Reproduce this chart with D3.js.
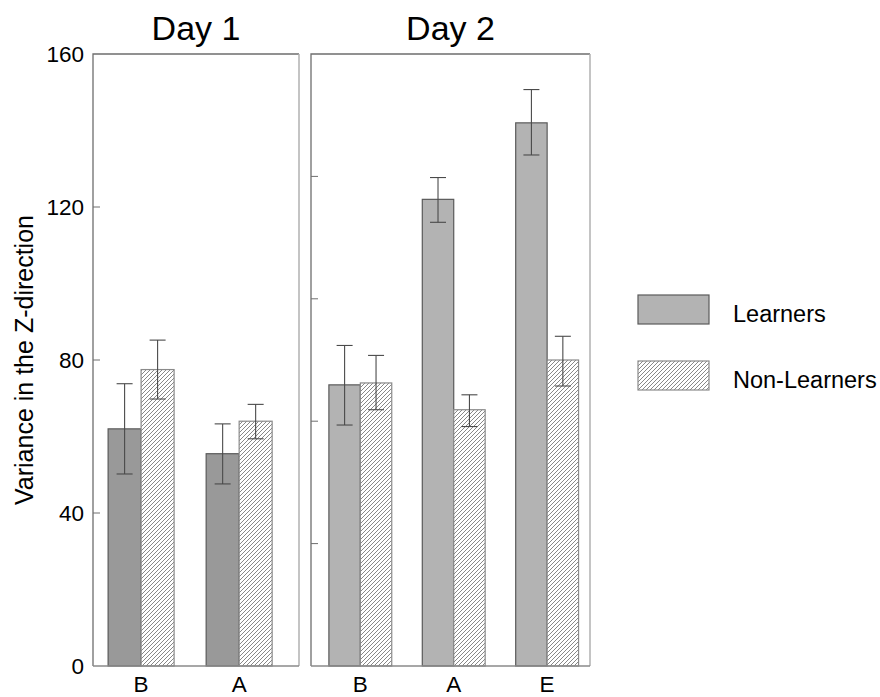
<!DOCTYPE html>
<html>
<head>
<meta charset="utf-8">
<script src="https://cdnjs.cloudflare.com/ajax/libs/d3/7.8.5/d3.min.js"></script>
<style>
  html, body { margin: 0; padding: 0; background: #fff; }
  svg { display: block; font-family: "Liberation Sans", Arial, sans-serif; }
</style>
</head>
<body>
<svg id="chart" width="880" height="697"></svg>
<script>
// ---------------- data ----------------
const series = ["Learners", "Non-Learners"];
const panelTitles = ["Day 1", "Day 2"];
const day1Categories = ["B", "A"];
const day2Categories = ["B", "A", "E"];
// means
const day1Learners = [62, 55.5];
const day1NonLearners = [77.5, 64];
const day2Learners = [73.5, 122, 142];
const day2NonLearners = [74, 67, 80];
// error bar bounds (low, high)
const day1LearnersErr = [[50.2, 73.8], [47.6, 63.3]];
const day1NonLearnersErr = [[69.8, 85.2], [59.4, 68.4]];
const day2LearnersErr = [[63, 83.8], [116, 127.7], [133.6, 150.7]];
const day2NonLearnersErr = [[67, 81.2], [62.6, 70.9], [73.2, 86.2]];
const yTicks = [0, 40, 80, 120, 160];
const day2MinorTicks = [32, 64, 96, 128];
const yLabel = "Variance in the Z-direction";

// ---------------- layout ----------------
const svg = d3.select("#chart");
const yTop = 54, yBottom = 666;
const y = d3.scaleLinear().domain([0, 160]).range([yBottom, yTop]);

const defs = svg.append("defs");
const pat = defs.append("pattern")
  .attr("id", "hatch").attr("patternUnits", "userSpaceOnUse")
  .attr("width", 4).attr("height", 4);
pat.append("rect").attr("width", 4).attr("height", 4).attr("fill", "#fff");
pat.append("path").attr("d", "M-1,1 l2,-2 M0,4 l4,-4 M3,5 l2,-2")
  .attr("stroke", "#7a7a7a").attr("stroke-width", 0.9);

const panels = [
  { title: panelTitles[0], cats: day1Categories, L: day1Learners, N: day1NonLearners,
    LE: day1LearnersErr, NE: day1NonLearnersErr, x0: 93, x1: 299,
    po: 0.214, align: 0.36, lFill: "#999999", minor: yTicks.slice(1, 4) },
  { title: panelTitles[1], cats: day2Categories, L: day2Learners, N: day2NonLearners,
    LE: day2LearnersErr, NE: day2NonLearnersErr, x0: 311, x1: 590,
    po: 0.157, align: 0.61, lFill: "#b3b3b3", minor: day2MinorTicks }
];

panels.forEach((p, pi) => {
  const g = svg.append("g");
  const x = d3.scaleBand().domain(p.cats).range([p.x0, p.x1])
    .paddingInner(0.327).paddingOuter(p.po).align(p.align);
  const xs = d3.scaleBand().domain(series).range([0, x.bandwidth()]);

  // frame
  g.append("path")
    .attr("d", `M${p.x0},${yBottom}V${yTop}H${p.x1}`)
    .attr("fill", "none").attr("stroke", "#6e6e6e").attr("stroke-width", 1.3);
  g.append("line").attr("x1", p.x1).attr("x2", p.x1).attr("y1", yTop).attr("y2", yBottom)
    .attr("stroke", "#b0b0b0").attr("stroke-width", 1.5);

  // inward ticks on left
  g.selectAll(".mt").data(p.minor).join("line")
    .attr("x1", p.x0).attr("x2", p.x0 + 7)
    .attr("y1", d => y(d)).attr("y2", d => y(d))
    .attr("stroke", "#6e6e6e").attr("stroke-width", 1);

  const rows = p.cats.map((c, i) => [
    { cat: c, s: series[0], v: p.L[i], e: p.LE[i] },
    { cat: c, s: series[1], v: p.N[i], e: p.NE[i] }
  ]).flat();

  g.selectAll(".bar").data(rows).join("rect")
    .attr("x", d => x(d.cat) + xs(d.s))
    .attr("width", xs.bandwidth())
    .attr("y", d => y(d.v))
    .attr("height", d => y(0) - y(d.v))
    .attr("fill", d => d.s === series[0] ? p.lFill : "url(#hatch)")
    .attr("stroke", d => d.s === series[0] ? "#5a5a5a" : "#8a8a8a")
    .attr("stroke-width", 1.2);

  // error bars
  const cap = 8;
  const eg = g.selectAll(".err").data(rows).join("g")
    .attr("stroke", "#4a4a4a").attr("stroke-width", 1.1);
  eg.append("line")
    .attr("x1", d => x(d.cat) + xs(d.s) + xs.bandwidth() / 2)
    .attr("x2", d => x(d.cat) + xs(d.s) + xs.bandwidth() / 2)
    .attr("y1", d => y(d.e[0])).attr("y2", d => y(d.e[1]));
  eg.append("line")
    .attr("x1", d => x(d.cat) + xs(d.s) + xs.bandwidth() / 2 - cap)
    .attr("x2", d => x(d.cat) + xs(d.s) + xs.bandwidth() / 2 + cap)
    .attr("y1", d => y(d.e[0])).attr("y2", d => y(d.e[0]));
  eg.append("line")
    .attr("x1", d => x(d.cat) + xs(d.s) + xs.bandwidth() / 2 - cap)
    .attr("x2", d => x(d.cat) + xs(d.s) + xs.bandwidth() / 2 + cap)
    .attr("y1", d => y(d.e[1])).attr("y2", d => y(d.e[1]));

  // bottom axis line
  g.append("line").attr("x1", p.x0).attr("x2", p.x1)
    .attr("y1", yBottom).attr("y2", yBottom)
    .attr("stroke", "#8a8a8a").attr("stroke-width", 1.5);

  // category labels
  g.selectAll(".xl").data(p.cats).join("text")
    .attr("x", d => x(d) + x.bandwidth() / 2)
    .attr("y", 692)
    .attr("text-anchor", "middle").attr("font-size", 22.5).attr("fill", "#000")
    .text(d => d);

  // title
  g.append("text").attr("x", (p.x0 + p.x1) / 2).attr("y", 40)
    .attr("text-anchor", "middle").attr("font-size", 34).attr("fill", "#000")
    .text(p.title);
});

// y axis labels
svg.selectAll(".yl").data(yTicks).join("text")
  .attr("x", 84).attr("y", d => y(d)).attr("dy", "0.36em")
  .attr("text-anchor", "end").attr("font-size", 22.5).attr("fill", "#000")
  .text(d => d);

svg.append("text")
  .attr("transform", `translate(33,${(yTop + yBottom) / 2}) rotate(-90)`)
  .attr("text-anchor", "middle").attr("font-size", 25).attr("fill", "#000")
  .text(yLabel);

// legend
const leg = svg.append("g");
series.forEach((s, i) => {
  const ly = 295 + i * 66;
  leg.append("rect").attr("x", 638).attr("y", ly).attr("width", 71).attr("height", 29)
    .attr("fill", i === 0 ? "#b3b3b3" : "url(#hatch)")
    .attr("stroke", i === 0 ? "#5a5a5a" : "#8a8a8a").attr("stroke-width", 1.2);
  leg.append("text").attr("x", 733).attr("y", ly + 27)
    .attr("font-size", 23.5).attr("fill", "#000").text(s);
});
</script>
</body>
</html>
